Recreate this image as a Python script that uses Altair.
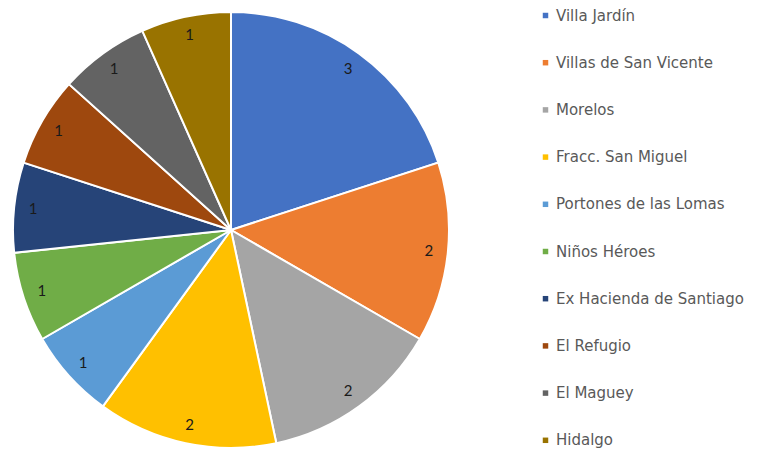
import altair as alt
import pandas as pd

categories = ["Villa Jardín", "Villas de San Vicente", "Morelos", "Fracc. San Miguel",
              "Portones de las Lomas", "Niños Héroes", "Ex Hacienda de Santiago",
              "El Refugio", "El Maguey", "Hidalgo"]
values = [3, 2, 2, 2, 1, 1, 1, 1, 1, 1]
colors = ["#4472C4", "#ED7D31", "#A5A5A5", "#FFC000", "#5B9BD5",
          "#70AD47", "#264478", "#9E480E", "#636363", "#997300"]

df = pd.DataFrame({"barrio": categories, "valor": values, "orden": list(range(len(categories)))})

cx, cy, R = 223, 222, 218

base = alt.Chart(df).encode(
    theta=alt.Theta("valor:Q", stack=True),
    order=alt.Order("orden:Q", sort="ascending"),
)

color = alt.Color(
    "barrio:N",
    scale=alt.Scale(domain=categories, range=colors),
    sort=categories,
    legend=alt.Legend(
        title=None, orient="none", legendX=530, legendY=0, padding=0,
        symbolType="square", symbolSize=30, symbolStrokeWidth=0,
        labelFont="DejaVu Sans", labelFontSize=15, labelColor="#595959",
        rowPadding=31.2, labelOffset=3, labelLimit=300,
    ),
)

arcs = base.mark_arc(outerRadius=R, stroke="white", strokeWidth=2).encode(
    color=color, x=alt.value(cx), y=alt.value(cy)
)

labels = base.mark_text(radius=199, font="Lato", fontSize=15, color="#1a1a1a").encode(
    text=alt.Text("valor:Q"), x=alt.value(cx), y=alt.value(cy)
)

chart = (arcs + labels).properties(
    width=747, height=441,
    autosize=alt.AutoSizeParams(type="none"),
    padding=0,
).configure_view(strokeWidth=0)

chart.save("out.html", embed_options={"renderer": "svg", "actions": False})
